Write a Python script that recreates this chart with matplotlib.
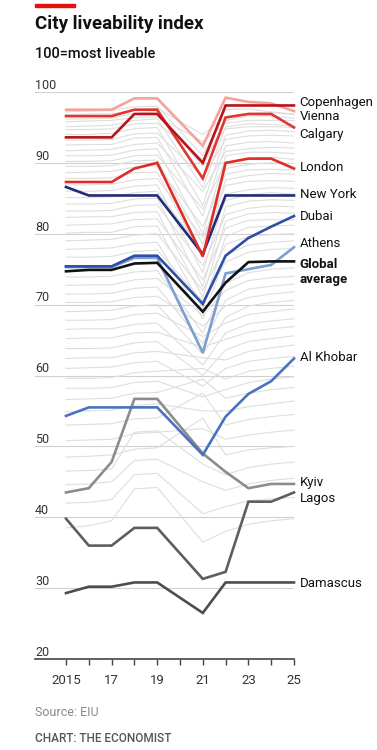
import numpy as np
import matplotlib.pyplot as plt

plt.rcParams['font.family'] = ['Roboto', 'DejaVu Sans']

# no survey in 2020, so that year is skipped
years = [2015, 2016, 2017, 2018, 2019, 2021, 2022, 2023, 2024, 2025]

copenhagen = [93.6, 93.6, 93.6, 96.9, 96.9, 90.0, 98.1, 98.1, 98.1, 98.1]
vienna = [97.5, 97.5, 97.5, 99.1, 99.1, 92.4, 99.2, 98.6, 98.4, 97.3]
calgary = [96.6, 96.6, 96.6, 97.5, 97.5, 87.8, 96.4, 96.9, 96.9, 95.0]
london = [87.3, 87.3, 87.3, 89.2, 90.0, 76.8, 90.0, 90.6, 90.6, 89.2]
new_york = [86.6, 85.4, 85.4, 85.4, 85.4, 77.1, 85.4, 85.4, 85.4, 85.4]
dubai = [75.4, 75.4, 75.4, 76.9, 76.9, 70.1, 76.9, 79.4, 81.0, 82.5]
athens = [75.3, 75.3, 75.3, 76.6, 76.6, 63.2, 74.4, 75.0, 75.6, 78.1]
global_avg = [74.7, 74.9, 74.9, 75.8, 75.9, 69.0, 73.1, 76.0, 76.1, 76.1]
al_khobar = [54.3, 55.5, 55.5, 55.5, 55.5, 48.8, 54.2, 57.4, 59.2, 62.4]
kyiv = [43.5, 44.1, 47.8, 56.7, 56.7, 49.0, 46.4, 44.1, 44.7, 44.7]
lagos = [39.8, 36.0, 36.0, 38.5, 38.5, 31.3, 32.3, 42.2, 42.2, 43.5]
damascus = [29.3, 30.2, 30.2, 30.8, 30.8, 26.5, 30.8, 30.8, 30.8, 30.8]

# the other cities, drawn in light grey behind
others = [
    [97.2, 97.3, 97.4, 97.9, 98.0, 91.0, 97.5, 97.6, 97.2, 96.9],
    [96.8, 96.9, 96.9, 97.5, 97.7, 94.0, 96.5, 97.0, 97.1, 96.8],
    [96.2, 96.2, 96.3, 97.0, 97.2, 89.5, 96.0, 96.6, 96.6, 96.3],
    [95.8, 95.9, 96.0, 96.4, 96.5, 93.0, 95.6, 96.0, 96.0, 96.0],
    [95.1, 95.2, 95.3, 96.0, 96.2, 86.5, 95.1, 95.5, 95.4, 95.2],
    [94.7, 94.7, 94.8, 95.5, 95.6, 90.5, 94.8, 95.1, 95.1, 95.0],
    [94.0, 94.0, 94.2, 94.8, 95.0, 84.0, 93.9, 94.5, 94.6, 94.4],
    [93.2, 93.2, 93.3, 94.1, 94.2, 88.0, 93.3, 93.8, 93.9, 93.8],
    [92.5, 92.6, 92.6, 93.5, 93.6, 82.5, 92.4, 92.9, 93.0, 92.8],
    [91.7, 91.8, 91.9, 92.6, 92.8, 86.0, 91.6, 92.0, 92.2, 92.1],
    [91.0, 91.0, 91.1, 91.8, 92.0, 80.0, 91.0, 91.5, 91.5, 91.3],
    [90.2, 90.2, 90.3, 91.0, 91.1, 83.5, 90.0, 90.6, 90.8, 90.5],
    [89.5, 89.5, 89.6, 90.3, 90.4, 78.5, 89.2, 89.8, 90.0, 89.9],
    [88.6, 88.7, 88.8, 89.4, 89.6, 81.0, 88.4, 89.0, 89.1, 89.0],
    [87.8, 87.8, 87.9, 88.6, 88.7, 76.5, 87.6, 88.2, 88.5, 88.4],
    [86.9, 86.9, 87.0, 87.6, 87.8, 79.5, 86.8, 87.4, 87.5, 87.4],
    [86.0, 86.0, 86.1, 86.7, 86.9, 74.5, 85.6, 86.2, 86.5, 86.4],
    [85.1, 85.1, 85.2, 85.8, 86.0, 77.5, 84.7, 85.5, 85.8, 85.6],
    [84.2, 84.2, 84.3, 84.9, 85.0, 72.5, 83.8, 84.6, 84.8, 84.7],
    [83.2, 83.2, 83.3, 84.0, 84.1, 75.5, 82.7, 83.6, 83.9, 83.8],
    [82.3, 82.4, 82.4, 83.0, 83.1, 71.0, 81.8, 82.8, 83.0, 82.9],
    [81.2, 81.3, 81.4, 82.0, 82.1, 73.5, 80.8, 81.9, 82.0, 81.9],
    [80.1, 80.2, 80.2, 81.0, 81.1, 69.5, 79.6, 80.9, 81.1, 81.2],
    [79.0, 79.1, 79.2, 79.8, 80.0, 72.0, 78.5, 79.6, 79.9, 80.0],
    [77.8, 77.9, 78.0, 78.6, 78.8, 68.0, 77.0, 78.4, 78.8, 79.0],
    [76.7, 76.7, 76.8, 77.5, 77.7, 70.5, 76.0, 77.4, 77.8, 77.9],
    [73.9, 73.9, 74.0, 74.6, 74.8, 66.0, 73.0, 74.5, 75.0, 75.2],
    [72.7, 72.8, 72.8, 73.5, 73.7, 68.5, 72.0, 73.4, 73.8, 74.0],
    [71.5, 71.5, 71.6, 72.3, 72.5, 64.5, 70.6, 72.2, 72.6, 72.9],
    [70.3, 70.3, 70.4, 71.0, 71.2, 67.0, 69.8, 71.0, 71.5, 71.8],
    [69.0, 69.1, 69.2, 69.8, 70.0, 63.0, 68.2, 69.8, 70.3, 70.6],
    [67.8, 67.8, 67.9, 68.6, 68.8, 65.5, 67.4, 68.6, 69.0, 69.4],
    [66.5, 66.6, 66.6, 67.2, 67.4, 61.5, 66.0, 67.3, 67.7, 68.0],
    [65.2, 65.3, 65.3, 66.0, 66.1, 64.0, 65.1, 66.1, 66.6, 66.9],
    [63.8, 63.8, 63.9, 64.6, 64.8, 60.0, 63.6, 64.8, 65.2, 65.6],
    [62.4, 62.5, 62.5, 63.2, 63.4, 62.5, 62.2, 63.4, 63.9, 64.3],
    [61.0, 61.1, 61.2, 61.8, 62.0, 58.5, 61.0, 62.0, 62.4, 62.7],
    [59.6, 59.6, 59.7, 60.4, 60.6, 61.0, 59.5, 60.6, 61.0, 61.3],
    [58.2, 58.2, 58.3, 59.0, 59.2, 57.0, 58.0, 59.0, 59.5, 59.8],
    [56.6, 56.7, 56.8, 57.5, 57.6, 59.5, 56.8, 57.5, 58.0, 58.3],
    [54.9, 55.0, 55.1, 55.8, 56.0, 55.0, 55.0, 55.6, 56.0, 56.4],
    [53.0, 53.1, 53.2, 53.9, 54.0, 57.5, 53.0, 53.8, 54.2, 54.5],
    [50.8, 50.9, 51.0, 51.8, 52.0, 52.5, 51.0, 51.6, 52.0, 52.3],
    [48.5, 48.6, 48.8, 49.6, 49.8, 54.0, 48.8, 49.5, 49.8, 50.0],
    [46.5, 46.6, 46.8, 52.0, 52.2, 47.5, 46.0, 47.0, 47.5, 47.8],
    [44.6, 44.7, 45.0, 48.0, 48.2, 45.0, 43.8, 44.7, 45.2, 45.5],
    [42.0, 42.1, 42.5, 46.0, 46.2, 40.5, 41.5, 42.3, 42.6, 42.8],
    [38.5, 38.8, 39.5, 44.0, 44.2, 36.5, 38.0, 39.0, 39.5, 39.8],
]

grid_values = [30, 40, 50, 60, 70, 80, 90, 100]
tick_years = list(range(2015, 2026))
tick_labels = ['2015', '', '17', '', '19', '', '21', '', '23', '', '25']

fig = plt.figure(figsize=(3.77, 7.5), dpi=100)
ax = fig.add_axes([35 / 377, 1 - 659 / 750, 259 / 377, 567 / 750])
x0 = 2015 - 31 / 22.8
ax.set_xlim(x0, 2025)
ax.set_ylim(20, 100)

for v in grid_values:
    ax.axhline(v, color='#d0d0d0', lw=0.8, zorder=0)
    ax.text(x0, v + 0.45, str(v), fontsize=9, color='#333333', va='baseline', ha='left')
ax.text(x0, 20.45, '20', fontsize=9, color='#333333', va='baseline', ha='left')

for s in others:
    ax.plot(years, s, color='#dedede', lw=0.8, zorder=1, clip_on=False)

# highlighted cities: (values, colour, label, label y, bold)
series = [
    (damascus, '#4d4d4d', 'Damascus', 30.7, False),
    (lagos, '#5e5e5e', 'Lagos', 42.7, False),
    (kyiv, '#8c8c88', 'Kyiv', 44.9, False),
    (al_khobar, '#4a72bf', 'Al Khobar', 62.5, False),
    (athens, '#7e9dd0', 'Athens', 78.6, False),
    (dubai, '#2f4ea6', 'Dubai', 82.4, False),
    (global_avg, '#111111', 'Global\naverage', 74.6, True),
    (new_york, '#1f2d7a', 'New York', 85.5, False),
    (london, '#df2d26', 'London', 89.35, False),
    (calgary, '#e0362f', 'Calgary', 94.0, False),
    (vienna, '#f4a29b', 'Vienna', 96.6, False),
    (copenhagen, '#b8141a', 'Copenhagen', 98.5, False),
]
for vals, col, name, ly, bold in series:
    ax.plot(years, vals, color=col, lw=1.9, zorder=3, clip_on=False,
            solid_joinstyle='miter')
    ax.text(2025.25, ly, name, fontsize=9.5, color='#111111', va='center', ha='left',
            fontweight='bold' if bold else 'normal', linespacing=1.15)

for side in ['top', 'right', 'left']:
    ax.spines[side].set_visible(False)
ax.spines['bottom'].set_color('#444444')
ax.spines['bottom'].set_linewidth(1.2)
ax.set_yticks([])
ax.set_xticks(tick_years)
ax.set_xticklabels(tick_labels)
ax.tick_params(axis='x', direction='out', length=4, width=1, color='#444444',
               labelsize=9.5, labelcolor='#333333', pad=7)

fig.patches.append(plt.Rectangle((35 / 377, 1 - 7 / 750), 40 / 377, 3 / 750,
                                 transform=fig.transFigure, color='#e3120b'))
fig.text(35 / 377, 1 - 24 / 750, 'City liveability index', fontsize=13.5,
         fontweight='bold', color='#111111', va='center', ha='left')
fig.text(35 / 377, 1 - 54 / 750, '100=most liveable', fontsize=10.5,
         fontweight='medium', color='#111111', va='center', ha='left')
fig.text(35 / 377, 1 - 712 / 750, 'Source: EIU', fontsize=9, color='#8a8a8a',
         va='center', ha='left')
fig.text(35 / 377, 1 - 739 / 750, 'CHART: THE ECONOMIST', fontsize=8.5,
         fontweight='medium', color='#555555', va='center', ha='left')

fig.savefig('out.png', dpi=100, facecolor='white')
